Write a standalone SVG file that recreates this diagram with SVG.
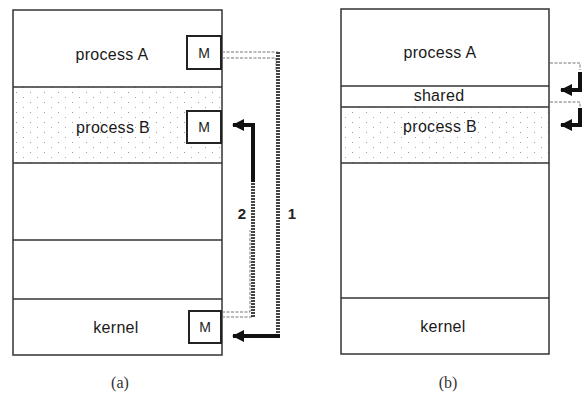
<svg xmlns="http://www.w3.org/2000/svg" width="587" height="397" viewBox="0 0 587 397">
<style>
.box{fill:none;stroke:#333;stroke-width:1.5}
.div{stroke:#333;stroke-width:1.5}
.m{fill:#fff;stroke:#222;stroke-width:2}
.t{font-family:"Liberation Sans",Arial,sans-serif;font-size:16px;fill:#1a1a1a;text-anchor:middle;letter-spacing:0.3px}
.mt{font-family:"Liberation Sans",Arial,sans-serif;font-size:14px;fill:#222;text-anchor:middle}
.cap{font-family:"Liberation Serif","Times New Roman",serif;font-size:16px;fill:#333;text-anchor:middle}
.num{font-family:"Liberation Sans",Arial,sans-serif;font-size:15px;font-weight:bold;fill:#222;text-anchor:middle}
.thin{fill:none;stroke:#777;stroke-width:1;stroke-dasharray:3 1.5}
.hatch{fill:none;stroke:#444;stroke-width:4;stroke-dasharray:2 1}
.solid{fill:none;stroke:#111;stroke-width:4}
</style>
<defs>
<pattern id="dots" width="14" height="10" patternUnits="userSpaceOnUse">
<rect x="2" y="2" width="1" height="1" fill="#999"/>
<rect x="9" y="7" width="1" height="1" fill="#aaa"/>
</pattern>
<marker id="ah" markerWidth="12" markerHeight="12" refX="11" refY="6" orient="auto" markerUnits="userSpaceOnUse">
<path d="M0,0 L12,6 L0,12 Z" fill="#111"/>
</marker>
</defs>

<!-- (a) -->
<g id="a-processB-bg"><rect x="13" y="87" width="209" height="76" fill="url(#dots)"/></g>
<g id="a-memory">
<rect class="box" x="13" y="10" width="209" height="345"/>
<line class="div" x1="13" y1="87" x2="222" y2="87"/>
<line class="div" x1="13" y1="163" x2="222" y2="163"/>
<line class="div" x1="13" y1="240" x2="222" y2="240"/>
<line class="div" x1="13" y1="299" x2="222" y2="299"/>
</g>
<g id="a-processA"><text class="t" x="112" y="60">process A</text></g>
<g id="a-processA-M"><rect class="m" x="187" y="36" width="34" height="33"/><text class="mt" x="204" y="58">M</text></g>
<g id="a-processB"><text class="t" x="113" y="133">process B</text></g>
<g id="a-processB-M"><rect class="m" x="187" y="111" width="34" height="32"/><text class="mt" x="204" y="132">M</text></g>
<g id="a-kernel"><text class="t" x="116" y="333">kernel</text></g>
<g id="a-kernel-M"><rect class="m" x="189" y="311" width="32" height="32"/><text class="mt" x="205" y="332">M</text></g>
<text class="cap" x="120" y="388">(a)</text>

<g id="connectors">
<!-- 1: process A -> kernel -->
<path class="thin" d="M222,52 H278"/>
<path class="thin" d="M222,58 H276 V70"/>
<path class="hatch" d="M278,52 V336"/>
<path class="solid" d="M280,336 H233" marker-end="url(#ah)"/>
<!-- 2: kernel -> process B -->
<path class="thin" d="M222,312 H250 V230"/>
<path class="thin" d="M222,317 H253"/>
<path class="hatch" d="M253,317 V180"/>
<path class="solid" d="M253,182 V125"/>
<path class="solid" d="M255,125 H233" marker-end="url(#ah)"/>
<!-- (b) arrows -->
<path class="thin" d="M550,63 H580 V70"/>
<path class="solid" d="M580,72 V90 H561" marker-end="url(#ah)"/>
<path class="thin" d="M550,102 H580 V108"/>
<path class="solid" d="M580,108 V125 H561" marker-end="url(#ah)"/>
</g>
<text class="num" x="242" y="219">2</text>
<text class="num" x="292" y="219">1</text>

<!-- (b) -->
<g id="b-processB-bg"><rect x="341" y="107" width="208" height="56" fill="url(#dots)"/></g>
<g id="b-memory">
<rect class="box" x="341" y="9" width="208" height="345"/>
<line class="div" x1="341" y1="86" x2="549" y2="86"/>
<line class="div" x1="341" y1="107" x2="549" y2="107"/>
<line class="div" x1="341" y1="163" x2="549" y2="163"/>
<line class="div" x1="341" y1="298" x2="549" y2="298"/>
</g>
<g id="b-processA"><text class="t" x="440" y="58">process A</text></g>
<g id="b-shared"><text class="t" x="439" y="101">shared</text></g>
<g id="b-processB"><text class="t" x="440" y="132">process B</text></g>
<g id="b-kernel"><text class="t" x="443" y="332">kernel</text></g>
<text class="cap" x="448" y="388">(b)</text>
</svg>
